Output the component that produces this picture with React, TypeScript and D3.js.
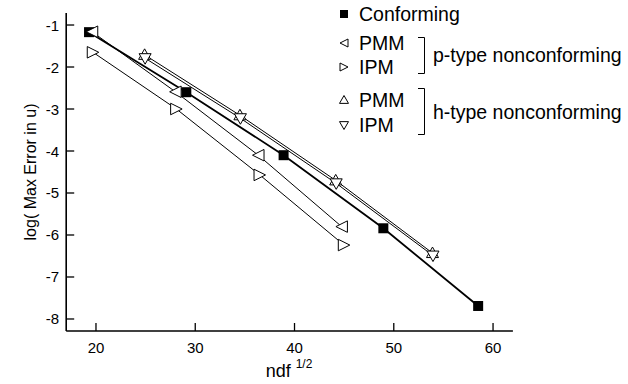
import React from "react";
import * as d3 from "d3";

const W = 628;
const H = 384;

const conformX = [19.3, 29.1, 38.9, 48.95, 58.5];
const conformY = [-1.17, -2.6, -4.1, -5.84, -7.69];

const pPmmX = [19.6, 28.0, 36.35, 44.75];
const pPmmY = [-1.16, -2.59, -4.1, -5.8];

const pIpmX = [19.7, 28.1, 36.5, 44.99];
const pIpmY = [-1.65, -3.0, -4.57, -6.24];

const hPmmX = [24.9, 34.5, 44.15, 53.9];
const hPmmY = [-1.71, -3.15, -4.7, -6.43];

const hIpmX = [24.95, 34.55, 44.2, 53.95];
const hIpmY = [-1.79, -3.22, -4.77, -6.49];

const xTicks = [20, 30, 40, 50, 60];
const yTicks = [-1, -2, -3, -4, -5, -6, -7, -8];

const FONT = "'Liberation Sans', Arial, Helvetica, sans-serif";

type Shape = "square" | "left" | "right" | "up" | "down";

function markerPath(shape: Shape, cx: number, cy: number, s: number): string {
  const r = s / 2;
  switch (shape) {
    case "square":
      return `M${cx - r},${cy - r}h${s}v${s}h${-s}Z`;
    case "left":
      return `M${cx - r},${cy}L${cx + r},${cy - r}L${cx + r},${cy + r}Z`;
    case "right":
      return `M${cx + r},${cy}L${cx - r},${cy - r}L${cx - r},${cy + r}Z`;
    case "up":
      return `M${cx},${cy - r}L${cx + r},${cy + r * 0.75}L${cx - r},${cy + r * 0.75}Z`;
    case "down":
      return `M${cx},${cy + r}L${cx + r},${cy - r * 0.75}L${cx - r},${cy - r * 0.75}Z`;
  }
}

export default function App() {
  const x = d3.scaleLinear().domain([17, 62]).range([66.2, 512.9]);
  const y = d3.scaleLinear().domain([-0.714, -8.286]).range([13, 331]);
  const line = d3.line<[number, number]>().x((d) => x(d[0])).y((d) => y(d[1]));

  const series = [
    { xs: conformX, ys: conformY, shape: "square" as Shape, lw: 1.8, size: 10 },
    { xs: pPmmX, ys: pPmmY, shape: "left" as Shape, lw: 1, size: 11.5 },
    { xs: pIpmX, ys: pIpmY, shape: "right" as Shape, lw: 1, size: 11.5 },
    { xs: hPmmX, ys: hPmmY, shape: "up" as Shape, lw: 1, size: 12 },
    { xs: hIpmX, ys: hIpmY, shape: "down" as Shape, lw: 1, size: 12 },
  ];

  const x0 = x.range()[0];
  const x1 = x.range()[1];
  const yBottom = 331;
  const yTop = 13;

  return (
    <svg
      width={W}
      height={H}
      style={{ position: "absolute", left: 0, top: 0, background: "#fff" }}
      fontFamily={FONT}
    >
      <rect width={W} height={H} fill="#fff" />
      {series.map((s, i) => (
        <path
          key={"l" + i}
          d={line(s.xs.map((v, j) => [v, s.ys[j]] as [number, number])) || ""}
          fill="none"
          stroke="#000"
          strokeWidth={s.lw}
        />
      ))}
      {series.map((s, i) =>
        s.xs.map((v, j) => (
          <path
            key={"m" + i + "-" + j}
            d={markerPath(s.shape, x(v), y(s.ys[j]), s.size)}
            fill={s.shape === "square" ? "#000" : "#fff"}
            stroke="#000"
            strokeWidth={s.shape === "square" ? 0 : 1}
          />
        ))
      )}
      <line x1={x0} x2={x1} y1={yBottom} y2={yBottom} stroke="#000" strokeWidth={1.6} />
      <line x1={x0} x2={x0} y1={yTop} y2={yBottom} stroke="#000" strokeWidth={1.6} />
      {xTicks.map((t) => (
        <g key={"xt" + t}>
          <line x1={x(t)} x2={x(t)} y1={yBottom} y2={yBottom - 8} stroke="#000" strokeWidth={1.3} />
          <text x={x(t)} y={yBottom + 22} fontSize={15} textAnchor="middle">
            {t}
          </text>
        </g>
      ))}
      {yTicks.map((t) => (
        <g key={"yt" + t}>
          <line x1={x0} x2={x0 + 8} y1={y(t)} y2={y(t)} stroke="#000" strokeWidth={1.3} />
          <text x={x0 - 7} y={y(t) + 5.5} fontSize={15} textAnchor="end">
            {t}
          </text>
        </g>
      ))}
      <text x={289} y={377} fontSize={18} textAnchor="middle">
        ndf
        <tspan fontSize={12} dy={-9} dx={5}>1/2</tspan>
      </text>
      <text
        transform={`translate(36,${(yTop + yBottom) / 2}) rotate(-90)`}
        fontSize={16}
        textAnchor="middle"
      >
        log( Max Error in u)
      </text>
      <g fontSize={19.5}>
        <path d={markerPath("square", 344, 14, 8)} fill="#000" />
        <text x={359} y={21}>Conforming</text>

        <path d={markerPath("left", 344, 43, 8)} fill="#fff" stroke="#000" strokeWidth={1} />
        <text x={359} y={50}>PMM</text>
        <path d={markerPath("right", 344, 67, 8)} fill="#fff" stroke="#000" strokeWidth={1} />
        <text x={359} y={74}>IPM</text>
        <path d="M418,37.5H424.5V73.5H418" fill="none" stroke="#000" strokeWidth={1} />
        <text x={433} y={62}>p-type nonconforming</text>

        <path d={markerPath("up", 344, 100, 9)} fill="#fff" stroke="#000" strokeWidth={1} />
        <text x={359} y={107}>PMM</text>
        <path d={markerPath("down", 344, 125, 9)} fill="#fff" stroke="#000" strokeWidth={1} />
        <text x={359} y={132}>IPM</text>
        <path d="M418,88.5H424.5V134.5H418" fill="none" stroke="#000" strokeWidth={1} />
        <text x={433} y={119}>h-type nonconforming</text>
      </g>
    </svg>
  );
}
